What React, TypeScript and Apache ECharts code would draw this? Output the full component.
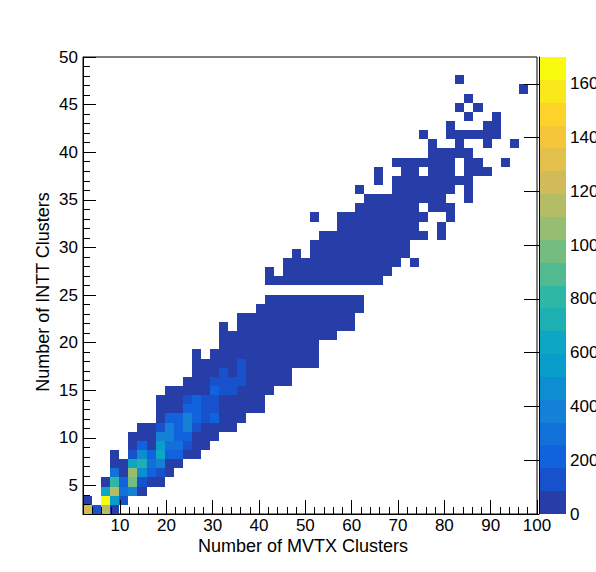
import { useEffect, useRef } from 'react';
import * as echarts from 'echarts';

// histogram binning: 50 x 50 bins
const X_MIN = 2;
const X_MAX = 100;
const Y_MIN = 2;
const Y_MAX = 50;
const N_BINS_X = 50;
const N_BINS_Y = 50;
const Z_MAX = 1700;
const N_LEVELS = 20;

const xTicks = [10, 20, 30, 40, 50, 60, 70, 80, 90, 100];
const yTicks = [5, 10, 15, 20, 25, 30, 35, 40, 45, 50];
const zTicks = [0, 200, 400, 600, 800, 1000, 1200, 1400, 1600];

// filled bins per y-bin row: [yBin, "xBin runs"]
const occupiedRows: [number, string][] = [
  [47, '41'], [46, '48'], [45, '42'], [44, '41,43'], [43, '42,45'],
  [42, '40,44-45'], [41, '37,40-45'], [40, '38,41,44,47'], [39, '38-42'],
  [38, '34-40,42-43,46'], [37, '32,35-36,38-40,42-44'], [36, '32,34-42'],
  [35, '30,34-40,42'], [34, '31-39,42'], [33, '30-36,38-40'], [32, '25,28-37,40'],
  [31, '28-36,39'], [30, '26-37,39'], [29, '25-35'], [28, '23,25-35'],
  [27, '22-34,36'], [26, '20,22-33'], [25, '20-32'], [23, '20-30'],
  [22, '19-30'], [21, '17-29'], [20, '15,17-29'], [19, '15-27'], [18, '15-25'],
  [17, '12,14-25'], [16, '12-25'], [15, '12-22'], [14, '11-22'], [13, '9-20'],
  [12, '8-19'], [11, '8-19'], [10, '8-17'], [9, '6-16'], [8, '5-14'],
  [7, '5-13'], [6, '3,5-12'], [5, '3-10'], [4, '3-9'], [3, '2-8'],
  [2, '2-6'], [1, '0,2-4'], [0, '0-3'],
];

// entries of the dark bins (lowest colour level)
const LOW_COUNT = 40;

// brighter bins: [xBin, yBin, entries]
const hotBins: [number, number, number][] = [
  [0, 0, 1230], [1, 0, 130], [2, 0, 1140],
  [2, 1, 1690], [3, 1, 560], [4, 1, 130],
  [2, 2, 620], [3, 2, 1150], [4, 2, 300], [5, 2, 390],
  [3, 3, 800], [4, 3, 210], [5, 3, 980], [6, 3, 130],
  [3, 4, 290], [5, 4, 1060], [6, 4, 460], [7, 4, 210], [8, 4, 130],
  [5, 5, 600], [6, 5, 700], [7, 5, 300], [8, 5, 380],
  [5, 6, 130], [6, 6, 450], [7, 6, 220], [8, 6, 610], [9, 6, 210], [10, 6, 200],
  [6, 7, 200], [8, 7, 550], [9, 7, 290], [10, 7, 280], [11, 7, 140],
  [8, 8, 380], [9, 8, 390], [10, 8, 210], [11, 8, 200],
  [8, 9, 150], [9, 9, 370], [10, 9, 210], [11, 9, 390], [12, 9, 150],
  [9, 10, 200], [10, 10, 210], [11, 10, 400], [12, 10, 230], [13, 10, 160], [14, 10, 170],
  [11, 11, 220], [12, 11, 230], [13, 11, 150], [14, 11, 150],
  [11, 12, 140], [12, 12, 220], [13, 12, 150], [14, 12, 150],
  [14, 13, 220], [15, 13, 140], [16, 13, 140],
  [14, 14, 130], [15, 14, 130], [16, 14, 130], [17, 14, 120],
  [15, 15, 120], [17, 15, 120],
  [17, 16, 110],
];

// ROOT kBird palette
const birdStops = [0.0, 0.125, 0.25, 0.375, 0.5, 0.625, 0.75, 0.875, 1.0];
const birdR = [0.2082, 0.0592, 0.078, 0.0232, 0.1802, 0.5301, 0.8186, 0.9956, 0.9764];
const birdG = [0.1664, 0.3599, 0.5041, 0.6419, 0.7178, 0.7492, 0.7328, 0.7862, 0.9832];
const birdB = [0.5293, 0.8684, 0.8385, 0.7914, 0.6425, 0.4662, 0.3499, 0.1968, 0.0539];

function birdColor(t: number) {
  let s = 0;
  while (s < birdStops.length - 2 && t > birdStops[s + 1]) s++;
  const f = (t - birdStops[s]) / (birdStops[s + 1] - birdStops[s]);
  const mix = (a: number[]) => Math.round((a[s] + (a[s + 1] - a[s]) * f) * 255);
  return `rgb(${mix(birdR)},${mix(birdG)},${mix(birdB)})`;
}

const levelColors = Array.from({ length: N_LEVELS }, (_, k) =>
  birdColor(Math.floor(((k + 0.99) * 255) / N_LEVELS) / 254)
);

function expandRuns(runs: string) {
  const out: number[] = [];
  for (const part of runs.split(',')) {
    const [a, b] = part.split('-').map(Number);
    for (let i = a; i <= (b ?? a); i++) out.push(i);
  }
  return out;
}

const FONT = 'Liberation Sans, Arial, Helvetica, sans-serif';

export default function App() {
  const chartRef = useRef<HTMLDivElement>(null);

  useEffect(() => {
    document.body.style.margin = '0';
    if (!chartRef.current) return;
    const chart = echarts.init(chartRef.current, undefined, { renderer: 'svg' });

    const bw = (X_MAX - X_MIN) / N_BINS_X;
    const bh = (Y_MAX - Y_MIN) / N_BINS_Y;
    const step = Z_MAX / N_LEVELS;

    const hot = new Map(hotBins.map(([i, j, c]) => [`${i},${j}`, c]));
    const bins: number[][] = [];
    for (const [j, runs] of occupiedRows) {
      for (const i of expandRuns(runs)) {
        bins.push([X_MIN + i * bw, Y_MIN + j * bh, hot.get(`${i},${j}`) ?? LOW_COUNT]);
      }
    }

    const minorX: number[] = [];
    for (let v = X_MIN + 2; v < X_MAX; v += 2) if (v % 10 !== 0) minorX.push(v);
    const minorY: number[] = [];
    for (let v = Y_MIN + 1; v < Y_MAX; v++) if (v % 5 !== 0) minorY.push(v);

    const labelStyle = {
      color: '#000',
      fontSize: 17,
      fontFamily: FONT,
      formatter: (v: number) => String(v),
    };
    const black = { color: '#000', width: 1 };

    const option: any = {
      animation: false,
      backgroundColor: '#fff',
      grid: [
        {
          left: 83, top: 57, width: 454, height: 457, outerBoundsMode: 'none',
          show: true, borderColor: '#000', borderWidth: 1, backgroundColor: 'transparent',
        },
        { left: 539, top: 57, width: 27, height: 457, outerBoundsMode: 'none' },
      ],
      xAxis: [
        {
          type: 'value', gridIndex: 0, min: X_MIN, max: X_MAX, position: 'bottom', z: 3,
          axisLine: { show: true, lineStyle: black },
          axisTick: { inside: true, length: 14, customValues: xTicks, lineStyle: black },
          axisLabel: { ...labelStyle, customValues: xTicks, margin: 3 },
          splitLine: { show: false },
        },
        {
          type: 'value', gridIndex: 0, min: X_MIN, max: X_MAX, position: 'bottom', z: 3,
          axisLine: { show: false },
          axisTick: { inside: true, length: 7, customValues: minorX, lineStyle: black },
          axisLabel: { show: false },
          splitLine: { show: false },
        },
        {
          type: 'value', gridIndex: 1, min: 0, max: 1, show: false,
        },
      ],
      yAxis: [
        {
          type: 'value', gridIndex: 0, min: Y_MIN, max: Y_MAX, position: 'left', z: 3,
          axisLine: { show: true, lineStyle: black },
          axisTick: { inside: true, length: 13, customValues: yTicks, lineStyle: black },
          axisLabel: { ...labelStyle, customValues: yTicks, margin: 5 },
          splitLine: { show: false },
        },
        {
          type: 'value', gridIndex: 0, min: Y_MIN, max: Y_MAX, position: 'left', z: 3,
          axisLine: { show: false },
          axisTick: { inside: true, length: 7, customValues: minorY, lineStyle: black },
          axisLabel: { show: false },
          splitLine: { show: false },
        },
        {
          type: 'value', gridIndex: 1, min: 0, max: Z_MAX, position: 'right', z: 3,
          axisLine: { show: true, lineStyle: black },
          axisTick: { inside: true, length: 15, customValues: zTicks, lineStyle: black },
          axisLabel: { ...labelStyle, customValues: zTicks, margin: 4 },
          splitLine: { show: false },
        },
      ],
      visualMap: {
        type: 'piecewise',
        show: false,
        seriesIndex: 0,
        dimension: 2,
        pieces: levelColors.map((color, k) =>
          k === N_LEVELS - 1 ? { gte: k * step, lte: Z_MAX, color } : { gte: k * step, lt: (k + 1) * step, color }
        ),
      },
      series: [
        {
          type: 'custom',
          xAxisIndex: 0,
          yAxisIndex: 0,
          z: 1,
          encode: { x: 0, y: 1 },
          data: bins,
          renderItem: (_params: any, api: any) => {
            const x0 = api.value(0);
            const y0 = api.value(1);
            const p0 = api.coord([x0, y0]);
            const p1 = api.coord([x0 + bw, y0 + bh]);
            const l = Math.round(p0[0]);
            const r = Math.round(p1[0]);
            const b = Math.round(p0[1]);
            const t = Math.round(p1[1]);
            return {
              type: 'rect',
              shape: { x: l, y: t, width: r - l, height: b - t },
              style: { fill: api.visual('color') },
            };
          },
        },
        {
          type: 'custom',
          xAxisIndex: 2,
          yAxisIndex: 2,
          z: 1,
          encode: { x: 0, y: 1 },
          data: levelColors.map((_, k) => [0, k * step, (k + 1) * step, k]),
          renderItem: (_params: any, api: any) => {
            const p0 = api.coord([0, api.value(1)]);
            const p1 = api.coord([1, api.value(2)]);
            const b = Math.round(p0[1]);
            const t = Math.round(p1[1]);
            return {
              type: 'rect',
              shape: { x: p0[0], y: t, width: p1[0] - p0[0], height: b - t },
              style: { fill: levelColors[api.value(3)] },
            };
          },
        },
      ],
      graphic: [
        {
          type: 'text', x: 303, y: 546,
          style: { text: 'Number of MVTX Clusters', fill: '#000', fontSize: 18, fontFamily: FONT, align: 'center', verticalAlign: 'middle' },
        },
        {
          type: 'text', x: 43, y: 292, rotation: Math.PI / 2,
          style: { text: 'Number of INTT Clusters', fill: '#000', fontSize: 18, fontFamily: FONT, align: 'center', verticalAlign: 'middle' },
        },
      ],
    };

    chart.setOption(option);
    return () => chart.dispose();
  }, []);

  return <div ref={chartRef} style={{ width: 596, height: 572 }} />;
}
